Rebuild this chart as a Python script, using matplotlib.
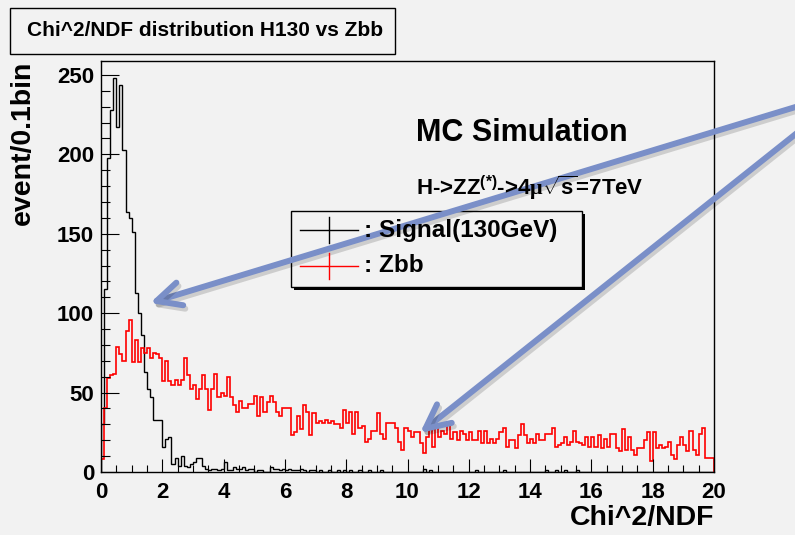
import numpy as np
import matplotlib
matplotlib.use("Agg")
import matplotlib.pyplot as plt
import matplotlib.patheffects as pe
from matplotlib.patches import Rectangle, FancyArrowPatch
from matplotlib.lines import Line2D
from matplotlib.ticker import MultipleLocator

plt.rcParams['font.family'] = ['Liberation Sans', 'DejaVu Sans']
plt.rcParams['font.weight'] = 'bold'
plt.rcParams['axes.labelweight'] = 'bold'
plt.rcParams['mathtext.fontset'] = 'custom'
plt.rcParams['mathtext.rm'] = 'Liberation Sans:bold'
plt.rcParams['mathtext.bf'] = 'Liberation Sans:bold'
plt.rcParams['mathtext.it'] = 'Liberation Serif'

# ---------------------------------------------------------------
# histogram contents, 200 bins of 0.1 from 0 to 20
# ---------------------------------------------------------------
bin_width = 0.1
edges = np.arange(201) * bin_width

signal = [
    30, 115, 198, 228, 248, 217, 244, 203, 164, 160,
    151, 113, 100, 86, 63, 52, 47, 33, 33, 33,
    16, 21, 22, 5, 9, 4, 10, 4, 3, 5,
    6, 9, 9, 4, 2, 1, 2, 2, 1, 2,
    6, 1, 1, 3, 2, 2, 3, 1, 2, 2,
    0, 1, 1, 0, 0, 3, 2, 2, 1, 2,
    1, 2, 1, 1, 1, 2, 1, 0, 1, 1,
    0, 1, 0, 0, 1, 0, 0, 1, 0, 1,
    0, 1, 0, 0, 1, 0, 0, 1, 0, 0,
    0, 1, 0, 0, 0, 0, 0, 0, 0, 0,
    0, 0, 0, 0, 0, 2, 0, 1, 0, 0,
    0, 0, 0, 0, 0, 0, 0, 0, 0, 0,
    0, 0, 1, 0, 0, 0, 0, 0, 0, 0,
    0, 1, 0, 0, 0, 0, 0, 0, 0, 0,
    0, 0, 0, 0, 0, 1, 0, 0, 1, 0,
    0, 1, 0, 0, 0, 1, 0, 0, 0, 0,
    0, 0, 0, 0, 0, 0, 0, 0, 0, 0,
    0, 0, 0, 0, 0, 0, 0, 0, 0, 0,
    0, 0, 0, 0, 0, 0, 0, 0, 0, 0,
    0, 0, 0, 0, 0, 0, 0, 0, 0, 0,
]

zbb = [
    8, 40, 59, 61, 62, 79, 74, 70, 89, 96,
    69, 83, 69, 78, 75, 78, 72, 75, 74, 72,
    57, 70, 57, 55, 58, 55, 58, 72, 61, 52,
    55, 46, 52, 61, 52, 39, 52, 62, 47, 50,
    48, 60, 47, 42, 38, 45, 40, 40, 43, 43,
    48, 35, 47, 38, 44, 48, 44, 38, 35, 40,
    40, 40, 23, 25, 35, 27, 42, 38, 23, 37,
    31, 32, 31, 33, 31, 32, 30, 30, 28, 39,
    31, 38, 24, 38, 28, 29, 19, 21, 26, 26,
    37, 24, 21, 31, 31, 31, 28, 19, 14, 28,
    26, 22, 25, 25, 18, 12, 22, 28, 16, 28,
    22, 26, 24, 31, 21, 25, 20, 26, 24, 20,
    25, 20, 20, 26, 18, 26, 18, 21, 18, 21,
    25, 28, 16, 20, 20, 15, 23, 30, 23, 18,
    21, 18, 24, 20, 20, 24, 24, 28, 16, 17,
    18, 22, 17, 19, 26, 19, 18, 17, 22, 16,
    22, 16, 23, 15, 21, 16, 24, 24, 15, 13,
    27, 14, 22, 14, 11, 15, 15, 20, 25, 7,
    25, 15, 17, 15, 16, 19, 11, 8, 17, 22,
    17, 13, 26, 14, 11, 24, 28, 9, 9, 9,
]

labels = [": Signal(130GeV)", ": Zbb"]
colors = ["black", "red"]

W, H = 795, 535
bg = "#f2f2f2"


def fx(x):
    return x / W


def fy(y):
    return 1 - y / H


fig = plt.figure(figsize=(W / 100, H / 100), dpi=100, facecolor=bg)
ax = fig.add_axes([fx(101), fy(472), (714 - 101) / W, (472 - 61) / H])
ax.set_facecolor(bg)

ax.stairs(signal, edges, color=colors[0], lw=1.0)
ax.stairs(zbb, edges, color=colors[1], lw=1.2)

ax.set_xlim(0, 20)
ax.set_ylim(0, 258.8)
ax.xaxis.set_major_locator(MultipleLocator(2))
ax.xaxis.set_minor_locator(MultipleLocator(0.5))
ax.yaxis.set_major_locator(MultipleLocator(50))
ax.yaxis.set_minor_locator(MultipleLocator(10))
ax.tick_params(axis='x', which='major', direction='in', length=9.4, width=0.8,
               labelsize=16, pad=7.5)
ax.tick_params(axis='x', which='minor', direction='in', length=4.7, width=0.8)
ax.tick_params(axis='y', which='major', direction='in', length=13, width=0.8,
               labelsize=16, pad=5)
ax.tick_params(axis='y', which='minor', direction='in', length=6.5, width=0.8)
for s in ax.spines.values():
    s.set_linewidth(1.0)

ax.set_xlabel("Chi^2/NDF", fontsize=20.5, loc='right', va='center')
ax.xaxis.set_label_coords(1.0, -(518 - 472) / 411)
ax.set_ylabel("event/0.1bin", fontsize=20.5, loc='top', va='center')
ax.yaxis.set_label_coords(-(101 - 23) / 613, 1.0)

# title box
fig.patches.append(Rectangle((fx(10), fy(54)), (395 - 10) / W, (54 - 8) / H,
                             transform=fig.transFigure, facecolor=bg,
                             edgecolor='black', lw=1.0))
fig.text(fx(27), fy(31), "Chi^2/NDF distribution H130 vs Zbb", fontsize=15,
         va='center', ha='left')

# annotations
fig.text(fx(416), fy(133), "MC Simulation", fontsize=22, va='center', ha='left')
fig.text(fx(416), fy(188), r"H->ZZ$^{(*)}$->4$\mu\sqrt{\mathrm{s}}$=7TeV",
         fontsize=16, va='center', ha='left')

# legend box with shadow
fig.patches.append(Rectangle((fx(294), fy(290)), (582 - 291) / W, (287 - 211) / H,
                             transform=fig.transFigure, facecolor='black',
                             edgecolor='black', lw=0))
fig.patches.append(Rectangle((fx(291), fy(287)), (582 - 291) / W, (287 - 211) / H,
                             transform=fig.transFigure, facecolor=bg,
                             edgecolor='black', lw=1.0))
for i, (lab, c) in enumerate(zip(labels, colors)):
    yy = 230 + 36 * i
    fig.lines.append(Line2D([fx(300), fx(358)], [fy(yy), fy(yy)], color=c, lw=1.0,
                            transform=fig.transFigure))
    fig.lines.append(Line2D([fx(329), fx(329)], [fy(yy - 13), fy(yy + 13)], color=c,
                            lw=1.0, transform=fig.transFigure))
    fig.text(fx(364), fy(yy), lab, fontsize=17.5, va='center', ha='left')

# blue arrows
arrow_color = "#7a8fc8"
for start, tip in [((812, 102), (150, 303)), ((812, 121), (420, 433))]:
    arr = FancyArrowPatch((fx(start[0]), fy(start[1])), (fx(tip[0]), fy(tip[1])),
                          transform=fig.transFigure,
                          arrowstyle='->,head_length=1.75,head_width=0.85',
                          mutation_scale=10, color=arrow_color, lw=4.3,
                          shrinkA=0, shrinkB=0,
                          capstyle='round', joinstyle='round')
    arr.set_path_effects([pe.SimpleLineShadow(offset=(1.5, -2.5), shadow_color='k',
                                              alpha=0.15), pe.Normal()])
    fig.patches.append(arr)

fig.savefig("out.png", dpi=100, facecolor=bg)
